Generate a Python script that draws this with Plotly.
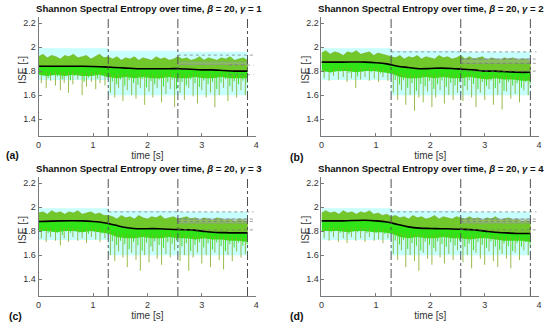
import plotly.graph_objects as go

# ---------------- data ----------------
panel_letters = ["(a)", "(b)", "(c)", "(d)"]
gammas = [1, 2, 3, 4]
seg_bounds = [1.28, 2.56, 3.84]

t_up = [0, 0.08, 0.16, 0.24, 0.32, 0.40, 0.48, 0.56, 0.64, 0.72, 0.80, 0.88, 0.96, 1.04,
        1.12, 1.20, 1.28, 1.36, 1.44, 1.52, 1.60, 1.68, 1.76, 1.84, 1.92, 2.00, 2.08,
        2.16, 2.24, 2.32, 2.40, 2.48, 2.56, 2.64, 2.72, 2.80, 2.88, 2.96, 3.04, 3.12,
        3.20, 3.28, 3.36, 3.44, 3.52, 3.60, 3.68, 3.76, 3.84]
upper = {
    1: [1.92, 1.94, 1.91, 1.93, 1.92, 1.90, 1.93, 1.92, 1.94, 1.91, 1.92, 1.93, 1.90, 1.92, 1.94, 1.91, 1.92,
        1.90, 1.92, 1.89, 1.91, 1.90, 1.92, 1.89, 1.91, 1.90, 1.89, 1.92, 1.90, 1.91, 1.89, 1.90, 1.92,
        1.90, 1.91, 1.89, 1.90, 1.92, 1.89, 1.91, 1.90, 1.89, 1.91, 1.90, 1.92, 1.89, 1.90, 1.91, 1.89],
    2: [1.95, 1.97, 1.94, 1.96, 1.95, 1.93, 1.96, 1.95, 1.97, 1.94, 1.95, 1.96, 1.93, 1.95, 1.94, 1.93, 1.92,
        1.91, 1.93, 1.90, 1.92, 1.91, 1.93, 1.90, 1.92, 1.91, 1.90, 1.93, 1.91, 1.92, 1.90, 1.91, 1.93,
        1.90, 1.92, 1.90, 1.91, 1.92, 1.89, 1.91, 1.90, 1.89, 1.91, 1.90, 1.91, 1.89, 1.90, 1.90, 1.88],
    3: [1.95, 1.96, 1.94, 1.97, 1.95, 1.96, 1.94, 1.96, 1.95, 1.97, 1.94, 1.95, 1.96, 1.94, 1.95, 1.93, 1.93,
        1.92, 1.90, 1.93, 1.91, 1.92, 1.90, 1.93, 1.91, 1.90, 1.92, 1.91, 1.93, 1.90, 1.91, 1.92, 1.90,
        1.91, 1.92, 1.90, 1.91, 1.89, 1.91, 1.90, 1.89, 1.91, 1.90, 1.89, 1.90, 1.88, 1.90, 1.89, 1.88],
    4: [1.95, 1.97, 1.95, 1.96, 1.94, 1.97, 1.95, 1.96, 1.94, 1.96, 1.95, 1.97, 1.94, 1.95, 1.93, 1.94, 1.92,
        1.93, 1.91, 1.92, 1.90, 1.93, 1.91, 1.92, 1.90, 1.91, 1.93, 1.90, 1.92, 1.91, 1.90, 1.92, 1.91,
        1.90, 1.92, 1.90, 1.91, 1.89, 1.91, 1.90, 1.92, 1.89, 1.90, 1.91, 1.89, 1.90, 1.88, 1.89, 1.88],
}

t_lo = [0, 0.16, 0.32, 0.48, 0.64, 0.80, 0.96, 1.12, 1.28, 1.44, 1.60, 1.76, 1.92,
        2.08, 2.24, 2.40, 2.56, 2.72, 2.88, 3.04, 3.20, 3.36, 3.52, 3.68, 3.84]
lower = {
    1: [1.77, 1.76, 1.77, 1.76, 1.77, 1.76, 1.76, 1.77, 1.75, 1.74, 1.75, 1.74, 1.75,
        1.74, 1.74, 1.75, 1.74, 1.74, 1.75, 1.74, 1.74, 1.75, 1.74, 1.74, 1.74],
    2: [1.80, 1.79, 1.80, 1.80, 1.79, 1.80, 1.80, 1.79, 1.78, 1.75, 1.74, 1.74, 1.75,
        1.74, 1.75, 1.74, 1.74, 1.75, 1.74, 1.73, 1.74, 1.73, 1.73, 1.72, 1.72],
    3: [1.80, 1.80, 1.79, 1.80, 1.80, 1.79, 1.80, 1.79, 1.78, 1.75, 1.74, 1.74, 1.75,
        1.74, 1.74, 1.75, 1.74, 1.74, 1.73, 1.74, 1.73, 1.73, 1.72, 1.72, 1.71],
    4: [1.80, 1.80, 1.80, 1.79, 1.80, 1.80, 1.79, 1.79, 1.78, 1.75, 1.74, 1.75, 1.74,
        1.74, 1.75, 1.74, 1.74, 1.73, 1.74, 1.74, 1.73, 1.72, 1.72, 1.72, 1.71],
}

spike_t = [0.05, 0.14, 0.22, 0.31, 0.40, 0.47, 0.55, 0.63, 0.72, 0.80, 0.88, 0.97,
           1.05, 1.13, 1.22, 1.32, 1.40, 1.47, 1.55, 1.63, 1.71, 1.79, 1.87, 1.95,
           2.03, 2.10, 2.18, 2.26, 2.34, 2.42, 2.50, 2.60, 2.68, 2.76, 2.84, 2.92,
           3.00, 3.08, 3.16, 3.24, 3.32, 3.40, 3.48, 3.56, 3.64, 3.72, 3.80]
spike_min = {
    1: [1.70, 1.66, 1.72, 1.68, 1.64, 1.70, 1.62, 1.69, 1.73, 1.60, 1.67, 1.71,
        1.65, 1.70, 1.68, 1.62, 1.58, 1.66, 1.55, 1.64, 1.60, 1.57, 1.66, 1.52,
        1.63, 1.58, 1.66, 1.54, 1.61, 1.65, 1.50, 1.62, 1.56, 1.66, 1.59, 1.53,
        1.64, 1.58, 1.62, 1.50, 1.60, 1.66, 1.55, 1.63, 1.58, 1.64, 1.60],
    2: [1.74, 1.72, 1.76, 1.73, 1.75, 1.71, 1.74, 1.66, 1.73, 1.75, 1.72, 1.74,
        1.71, 1.75, 1.72, 1.62, 1.56, 1.64, 1.52, 1.60, 1.47, 1.58, 1.54, 1.63,
        1.50, 1.58, 1.64, 1.53, 1.60, 1.56, 1.62, 1.55, 1.64, 1.58, 1.50, 1.62,
        1.56, 1.65, 1.52, 1.60, 1.48, 1.63, 1.57, 1.61, 1.54, 1.64, 1.60],
    3: [1.74, 1.71, 1.75, 1.72, 1.68, 1.74, 1.71, 1.75, 1.72, 1.74, 1.70, 1.75,
        1.73, 1.71, 1.74, 1.60, 1.55, 1.63, 1.58, 1.50, 1.62, 1.56, 1.47, 1.60,
        1.54, 1.63, 1.57, 1.52, 1.61, 1.58, 1.64, 1.55, 1.60, 1.47, 1.58, 1.62,
        1.53, 1.60, 1.50, 1.62, 1.56, 1.48, 1.60, 1.55, 1.63, 1.58, 1.61],
    4: [1.74, 1.72, 1.75, 1.71, 1.74, 1.70, 1.75, 1.72, 1.74, 1.71, 1.75, 1.72,
        1.73, 1.70, 1.74, 1.61, 1.56, 1.64, 1.50, 1.60, 1.55, 1.47, 1.62, 1.57,
        1.52, 1.63, 1.58, 1.53, 1.61, 1.56, 1.64, 1.54, 1.60, 1.49, 1.62, 1.57,
        1.52, 1.63, 1.55, 1.50, 1.61, 1.57, 1.49, 1.62, 1.56, 1.64, 1.60],
}

t_mean = [0, 0.4, 0.8, 1.0, 1.2, 1.4, 1.6, 1.8, 2.0, 2.2, 2.4, 2.6, 2.8, 3.0, 3.2, 3.4, 3.6, 3.84]
mean_line = {
    1: [1.840, 1.840, 1.840, 1.838, 1.835, 1.830, 1.825, 1.820, 1.820, 1.820, 1.820, 1.820,
        1.815, 1.810, 1.810, 1.805, 1.800, 1.800],
    2: [1.875, 1.875, 1.875, 1.870, 1.860, 1.840, 1.830, 1.820, 1.822, 1.825, 1.822, 1.815,
        1.810, 1.800, 1.800, 1.795, 1.790, 1.790],
    3: [1.880, 1.885, 1.885, 1.880, 1.870, 1.850, 1.830, 1.820, 1.820, 1.820, 1.815, 1.812,
        1.810, 1.800, 1.790, 1.787, 1.785, 1.785],
    4: [1.885, 1.885, 1.890, 1.885, 1.875, 1.855, 1.835, 1.825, 1.822, 1.820, 1.818, 1.815,
        1.810, 1.800, 1.790, 1.785, 1.780, 1.780],
}

bands = [(0, 1.28, 1.725, 1.99), (1.28, 2.56, 1.60, 1.97), (2.56, 3.84, 1.60, 1.96)]
gray_band = {1: (2.56, 3.84, 1.855, 1.875), 2: (2.56, 3.84, 1.865, 1.90),
             3: (2.56, 3.84, 1.867, 1.90), 4: (2.56, 3.84, 1.867, 1.90)}
ref_lines = {
    1: [(1.933, 2.56, 3.95), (1.85, 3.5, 3.95), (1.77, 3.5, 3.95)],
    2: [(1.96, 1.28, 3.95), (1.90, 2.56, 3.95), (1.865, 2.56, 3.95), (1.80, 2.56, 3.95)],
    3: [(1.96, 1.28, 3.95), (1.90, 2.56, 3.95), (1.88, 2.56, 3.95), (1.81, 2.56, 3.95)],
    4: [(1.96, 1.28, 3.95), (1.90, 2.56, 3.95), (1.88, 2.56, 3.95), (1.81, 2.56, 3.95)],
}

x_ticks = [0, 1, 2, 3, 4]
y_ticks = [1.4, 1.6, 1.8, 2, 2.2]

# ---------------- layout geometry ----------------
W, H = 550, 327
x_domains = {1: [36 / W, 256 / W], 2: [322 / W, 542 / W], 3: [36 / W, 256 / W], 4: [322 / W, 542 / W]}
y_domains = {1: [1 - 136 / H, 1 - 17 / H], 2: [1 - 136 / H, 1 - 17 / H],
             3: [1 - 296 / H, 1 - 177 / H], 4: [1 - 296 / H, 1 - 177 / H]}
title_left = {1: 31, 2: 316, 3: 31, 4: 316}
ylabel_x = {1: 20, 2: 306, 3: 20, 4: 306}

FONT = "Liberation Sans, Arial, sans-serif"
fig = go.Figure()
shapes = []
annotations = []


def interp(ts, vs, t):
    for j in range(len(ts) - 1):
        if ts[j] <= t <= ts[j + 1]:
            f = (t - ts[j]) / (ts[j + 1] - ts[j])
            return vs[j] + f * (vs[j + 1] - vs[j])
    return vs[-1]


for i in range(1, 5):
    xa = "x" if i == 1 else f"x{i}"
    ya = "y" if i == 1 else f"y{i}"

    for (x0, x1, y0, y1) in bands:
        shapes.append(dict(type="rect", xref=xa, yref=ya, x0=x0, x1=x1, y0=y0, y1=y1,
                           fillcolor="rgba(185,255,255,0.8)", line=dict(width=0), layer="below"))

    fig.add_trace(go.Scatter(x=t_up + t_mean[::-1], y=upper[i] + mean_line[i][::-1], xaxis=xa, yaxis=ya,
                             fill="toself", fillcolor="rgba(105,195,25,0.92)", mode="lines",
                             line=dict(width=0.7, color="rgba(130,170,40,0.9)"),
                             hoverinfo="skip", showlegend=False))
    fig.add_trace(go.Scatter(x=t_mean + t_lo[::-1], y=mean_line[i] + lower[i][::-1], xaxis=xa, yaxis=ya,
                             fill="toself", fillcolor="rgba(40,225,10,0.95)", mode="lines",
                             line=dict(width=0), hoverinfo="skip", showlegend=False))
    sx, sy = [], []
    sx2, sy2 = [], []
    for k, t in enumerate(spike_t):
        base = interp(t_lo, lower[i], t)
        sx += [t, t, None]
        sy += [base + 0.03, spike_min[i][k], None]
        tt = t + 0.035
        sx2 += [tt, tt, None]
        sy2 += [base + 0.03, (base + spike_min[i][k]) / 2 + 0.03, None]
    fig.add_trace(go.Scatter(x=sx, y=sy, xaxis=xa, yaxis=ya, mode="lines",
                             line=dict(width=1, color="rgba(135,175,45,0.85)"),
                             hoverinfo="skip", showlegend=False))
    fig.add_trace(go.Scatter(x=sx2, y=sy2, xaxis=xa, yaxis=ya, mode="lines",
                             line=dict(width=1, color="rgba(50,225,15,0.9)"),
                             hoverinfo="skip", showlegend=False))

    gx0, gx1, gy0, gy1 = gray_band[i]
    shapes.append(dict(type="rect", xref=xa, yref=ya, x0=gx0, x1=gx1, y0=gy0, y1=gy1,
                       fillcolor="rgba(180,180,180,0.35)", line=dict(width=0.8, color="rgba(150,150,150,0.8)")))
    for (yy, x0, x1) in ref_lines[i]:
        shapes.append(dict(type="line", xref=xa, yref=ya, x0=x0, x1=x1, y0=yy, y1=yy,
                           line=dict(width=0.8, color="rgba(120,120,120,0.9)", dash="dot")))
    for xb in seg_bounds:
        shapes.append(dict(type="line", xref=xa, yref=ya, x0=xb, x1=xb, y0=1.26, y1=2.25,
                           line=dict(width=1, color="#505050", dash="dashdot")))

    fig.add_trace(go.Scatter(x=t_mean, y=mean_line[i], xaxis=xa, yaxis=ya, mode="lines",
                             line=dict(width=1.6, color="black", shape="spline"),
                             hoverinfo="skip", showlegend=False))

    axis_common = dict(showgrid=False, zeroline=False, showline=True, linecolor="#7a7a7a",
                       linewidth=1, ticks="inside", ticklen=3, tickcolor="#7a7a7a",
                       tickfont=dict(family=FONT, size=9, color="#333333"))
    fig.update_layout(**{
        ("xaxis" if i == 1 else f"xaxis{i}"): dict(
            domain=x_domains[i], range=[0, 4.0], tickvals=x_ticks, anchor=ya,
            title=dict(text="time [s]", font=dict(family=FONT, size=10, color="#333333"), standoff=3),
            **axis_common),
        ("yaxis" if i == 1 else f"yaxis{i}"): dict(
            domain=y_domains[i], range=[1.26, 2.25], tickvals=y_ticks, anchor=xa,
            **axis_common),
    })

    annotations.append(dict(
        text="ISE [-]", textangle=-90, xref="paper", yref="paper",
        x=ylabel_x[i] / W, y=(y_domains[i][0] + y_domains[i][1]) / 2 + 0.02,
        xanchor="center", yanchor="middle", showarrow=False,
        font=dict(family=FONT, size=10, color="#333333")))

    annotations.append(dict(
        text=f"<b>Shannon Spectral Entropy over time, <i>β</i> = 20, <i>γ</i> = {gammas[i - 1]}</b>",
        xref="paper", yref="paper", x=title_left[i] / W, y=y_domains[i][1] + 0.003,
        xanchor="left", yanchor="bottom", showarrow=False,
        font=dict(family=FONT, size=9.6, color="#111111")))

label_pos = {1: (1, 155), 2: (288, 157), 3: (4, 316), 4: (288, 316)}
for i in range(1, 5):
    px, py = label_pos[i]
    annotations.append(dict(text=f"<b>{panel_letters[i - 1]}</b>", xref="paper", yref="paper",
                            x=px / W, y=1 - py / H, xanchor="left", yanchor="middle",
                            showarrow=False, font=dict(family=FONT, size=10.5, color="#111111")))

fig.update_layout(width=W, height=H, margin=dict(l=0, r=0, t=0, b=0),
                  paper_bgcolor="white", plot_bgcolor="white",
                  shapes=shapes, annotations=annotations, showlegend=False)

fig.write_html("out.html", config={"displayModeBar": False},
               post_script="document.body.style.margin='0';document.body.style.overflow='hidden';")
